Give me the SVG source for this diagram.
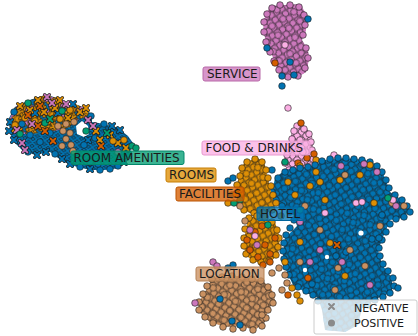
<svg xmlns="http://www.w3.org/2000/svg" width="418" height="336" viewBox="0 0 418 336">
<style>
.b{color:#0173b2}.o{color:#de8f05}.g{color:#029e73}.r{color:#d55e00}.p{color:#cc78bc}.t{color:#ca9161}.l{color:#fbafe4}
.lb{font-family:"DejaVu Sans","Liberation Sans",sans-serif;font-size:12px;fill:#1a1a1a}
.lg{font-family:"DejaVu Sans","Liberation Sans",sans-serif;font-size:11px;fill:#1a1a1a}
.box{stroke-width:1;fill-opacity:.78}
.gap{fill:#ffffff}
</style>
<defs>
<g id="c"><circle r="3.3" fill="currentColor" stroke="#1b1b1b" stroke-width="0.6"/></g>
<g id="x"><path d="M-2.4-2.4L2.4 2.4M2.4-2.4L-2.4 2.4" stroke="#1b1b1b" stroke-width="3.2" stroke-linecap="round"/><path d="M-2.4-2.4L2.4 2.4M2.4-2.4L-2.4 2.4" stroke="currentColor" stroke-width="1.9" stroke-linecap="round"/></g>
<pattern id="pb" width="9" height="8" patternUnits="userSpaceOnUse" patternTransform="rotate(12)"><rect width="9" height="8" fill="#0173b2"/><g fill="#0173b2" stroke="#1b1b1b" stroke-width="0.6"><circle r="3.3"/><circle cx="9" r="3.3"/><circle cx="4.5" cy="4" r="3.3"/><circle cy="8" r="3.3"/><circle cx="9" cy="8" r="3.3"/></g></pattern>
<pattern id="pb2" width="13" height="11" patternUnits="userSpaceOnUse" patternTransform="rotate(-33)"><circle cx="6" cy="5" r="3.3" fill="#0173b2" stroke="#1b1b1b" stroke-width="0.6"/></pattern>
<pattern id="pp" width="9" height="8" patternUnits="userSpaceOnUse" patternTransform="rotate(10)"><rect width="9" height="8" fill="#cc78bc"/><g fill="#cc78bc" stroke="#1b1b1b" stroke-width="0.6"><circle r="3.3"/><circle cx="9" r="3.3"/><circle cx="4.5" cy="4" r="3.3"/><circle cy="8" r="3.3"/><circle cx="9" cy="8" r="3.3"/></g></pattern>
<pattern id="pp2" width="13" height="11" patternUnits="userSpaceOnUse" patternTransform="rotate(-33)"><circle cx="6" cy="5" r="3.3" fill="#cc78bc" stroke="#1b1b1b" stroke-width="0.6"/></pattern>
<pattern id="pt" width="9" height="8" patternUnits="userSpaceOnUse" patternTransform="rotate(-8)"><rect width="9" height="8" fill="#ca9161"/><g fill="#ca9161" stroke="#1b1b1b" stroke-width="0.6"><circle r="3.3"/><circle cx="9" r="3.3"/><circle cx="4.5" cy="4" r="3.3"/><circle cy="8" r="3.3"/><circle cx="9" cy="8" r="3.3"/></g></pattern>
<pattern id="pt2" width="13" height="11" patternUnits="userSpaceOnUse" patternTransform="rotate(31)"><circle cx="6" cy="5" r="3.3" fill="#ca9161" stroke="#1b1b1b" stroke-width="0.6"/></pattern>
<pattern id="po" width="9" height="8" patternUnits="userSpaceOnUse" patternTransform="rotate(15)"><rect width="9" height="8" fill="#de8f05"/><g fill="#de8f05" stroke="#1b1b1b" stroke-width="0.6"><circle r="3.3"/><circle cx="9" r="3.3"/><circle cx="4.5" cy="4" r="3.3"/><circle cy="8" r="3.3"/><circle cx="9" cy="8" r="3.3"/></g></pattern>
<pattern id="po2" width="13" height="11" patternUnits="userSpaceOnUse" patternTransform="rotate(-28)"><circle cx="6" cy="5" r="3.3" fill="#de8f05" stroke="#1b1b1b" stroke-width="0.6"/></pattern>
<pattern id="pl" width="9" height="8" patternUnits="userSpaceOnUse"><rect width="9" height="8" fill="#fbafe4"/><g fill="#fbafe4" stroke="#1b1b1b" stroke-width="0.6"><circle r="3.3"/><circle cx="9" r="3.3"/><circle cx="4.5" cy="4" r="3.3"/><circle cy="8" r="3.3"/><circle cx="9" cy="8" r="3.3"/></g></pattern>
<pattern id="pbx" width="8" height="7" patternUnits="userSpaceOnUse" patternTransform="rotate(8)"><rect width="8" height="7" fill="#0173b2"/><g stroke="#1b1b1b" stroke-width="3" stroke-linecap="round"><path d="M-2-2L2 2M2-2L-2 2M6-2L10 2M10-2L6 2M2 1.5L6 5.5M6 1.5L2 5.5M-2 5L2 9M2 5L-2 9M6 5L10 9M10 5L6 9"/></g><g stroke="#0173b2" stroke-width="1.8" stroke-linecap="round"><path d="M-2-2L2 2M2-2L-2 2M6-2L10 2M10-2L6 2M2 1.5L6 5.5M6 1.5L2 5.5M-2 5L2 9M2 5L-2 9M6 5L10 9M10 5L6 9"/></g></pattern>
<pattern id="pmix" width="16" height="14" patternUnits="userSpaceOnUse" patternTransform="rotate(17)"><rect width="16" height="14" fill="#de8f05"/><use href="#c" x="4" y="10.5" class="o"/><use href="#x" x="4" y="4" class="o"/><use href="#x" x="12" y="4" class="b"/><use href="#x" x="12" y="10.5" class="p"/><use href="#x" x="8" y="7.3" class="o"/></pattern>
</defs>
<rect width="418" height="336" fill="#ffffff"/>

<g id="cluster-room-amenities">
<path fill="url(#pbx)" fill-rule="evenodd" d="M8,120 L15,107 L30,100 L45,95 L58,98 L67,107 L75,104 L85,108 L92,115 L92,122 L105,124 L118,128 L128,136 L133,143 L130,152 L122,162 L120,168 L105,170 L90,170 L70,165 L58,158 L50,152 L35,155 L22,150 L12,140 Z M76,126 L82,121 L88,126 L89,134 L84,137 L77,134 Z"/>
<path fill="url(#pmix)" d="M9,120 L15,107 L30,100 L45,95 L58,98 L67,107 L75,104 L85,108 L90,115 L78,120 L70,127 L55,131 L40,133 L25,134 L12,132 Z"/>
<g class="b">
<use href="#x" x="10" y="122"/><use href="#c" x="14" y="112"/><use href="#x" x="9" y="131"/><use href="#x" x="14" y="140"/><use href="#c" x="28" y="152"/><use href="#x" x="37" y="155"/><use href="#x" x="46" y="152"/><use href="#c" x="55" y="154"/><use href="#x" x="62" y="159"/><use href="#x" x="70" y="164"/><use href="#c" x="80" y="167"/><use href="#x" x="90" y="169"/><use href="#c" x="100" y="170"/><use href="#c" x="110" y="169"/><use href="#c" x="118" y="166"/><use href="#x" x="124" y="162"/><use href="#x" x="128" y="155"/><use href="#c" x="104" y="124"/><use href="#x" x="112" y="126"/><use href="#x" x="120" y="130"/><use href="#c" x="91" y="116"/><use href="#x" x="73" y="104"/><use href="#c" x="40" y="142"/><use href="#c" x="30" y="135"/><use href="#c" x="50" y="133"/><use href="#x" x="88" y="140"/><use href="#c" x="95" y="138"/><use href="#c" x="84" y="145"/><use href="#c" x="90" y="162"/><use href="#c" x="98" y="164"/><use href="#x" x="35" y="113"/><use href="#c" x="22" y="124"/><use href="#x" x="58" y="113"/>
</g>
<g class="o">
<use href="#x" x="38" y="100"/><use href="#x" x="55" y="108"/><use href="#x" x="30" y="110"/><use href="#x" x="68" y="118"/><use href="#x" x="80" y="112"/><use href="#c" x="25" y="118"/><use href="#c" x="35" y="121"/><use href="#c" x="60" y="119"/><use href="#c" x="70" y="110"/><use href="#x" x="20" y="106"/><use href="#x" x="60" y="100"/><use href="#x" x="100" y="140"/><use href="#x" x="110" y="135"/><use href="#x" x="118" y="143"/><use href="#c" x="113" y="141"/><use href="#c" x="124" y="140"/><use href="#x" x="44" y="112"/><use href="#c" x="15" y="125"/><use href="#x" x="86" y="108"/><use href="#x" x="126" y="148"/><use href="#c" x="42" y="128"/><use href="#x" x="96" y="131"/>
</g>
<g class="p"><use href="#x" x="47" y="97"/><use href="#x" x="52" y="103"/><use href="#x" x="22" y="143"/><use href="#x" x="25" y="150"/><use href="#x" x="17" y="130"/><use href="#x" x="88" y="120"/><use href="#x" x="93" y="126"/><use href="#x" x="66" y="104"/><use href="#c" x="118" y="152"/><use href="#x" x="32" y="124"/></g>
<g class="t"><use href="#c" x="58" y="126"/><use href="#c" x="63" y="131"/><use href="#c" x="66" y="139"/><use href="#c" x="71" y="145"/><use href="#c" x="73" y="151"/><use href="#c" x="62" y="146"/><use href="#c" x="70" y="133"/><use href="#c" x="74" y="122"/><use href="#c" x="66" y="124"/></g>
<g class="g"><use href="#c" x="20" y="134"/><use href="#c" x="45" y="123"/><use href="#x" x="50" y="119"/><use href="#c" x="62" y="111"/><use href="#c" x="86" y="131"/><use href="#x" x="107" y="133"/><use href="#c" x="132" y="146"/><use href="#c" x="136" y="148"/><use href="#c" x="28" y="103"/></g>
<g class="r"><use href="#x" x="45" y="131"/><use href="#x" x="38" y="126"/><use href="#x" x="53" y="141"/><use href="#x" x="28" y="115"/><use href="#x" x="101" y="146"/><use href="#x" x="40" y="106"/></g>
</g>

<g id="cluster-service">
<path fill="url(#pp)" d="M270,6 L300,4 L305,12 L306,30 L302,40 L308,50 L309,60 L306,72 L296,78 L283,76 L277,68 L272,55 L268,45 L264,35 L263,22 Z"/>
<path fill="url(#pp2)" d="M270,6 L300,4 L305,12 L306,30 L302,40 L308,50 L309,60 L306,72 L296,78 L283,76 L277,68 L272,55 L268,45 L264,35 L263,22 Z"/>
<g class="p"><use href="#c" x="272" y="8"/><use href="#c" x="280" y="5"/><use href="#c" x="290" y="5"/><use href="#c" x="299" y="7"/><use href="#c" x="304" y="15"/><use href="#c" x="305" y="25"/><use href="#c" x="303" y="35"/><use href="#c" x="306" y="48"/><use href="#c" x="308" y="58"/><use href="#c" x="305" y="68"/><use href="#c" x="298" y="76"/><use href="#c" x="288" y="77"/><use href="#c" x="279" y="70"/><use href="#c" x="274" y="61"/><use href="#c" x="270" y="52"/><use href="#c" x="266" y="42"/><use href="#c" x="264" y="32"/><use href="#c" x="264" y="22"/><use href="#c" x="267" y="14"/></g>
<g class="b"><use href="#c" x="290" y="62"/><use href="#c" x="282" y="76"/><use href="#c" x="294" y="75"/><use href="#c" x="267" y="48"/><use href="#c" x="308" y="19"/><use href="#c" x="282" y="86"/></g>
<g class="l"><use href="#c" x="285" y="45"/><use href="#c" x="288" y="108"/></g>
<g class="r"><use href="#c" x="275" y="63"/></g>
</g>

<g id="cluster-food">
<path fill="url(#pl)" d="M295,124 L305,126 L312,135 L313,150 L315,162 L310,172 L300,175 L290,172 L284,165 L285,150 L290,138 Z"/>
<g class="l"><use href="#c" x="297" y="126"/><use href="#c" x="304" y="129"/><use href="#c" x="309" y="134"/><use href="#c" x="311" y="142"/><use href="#c" x="312" y="150"/><use href="#c" x="313" y="159"/><use href="#c" x="311" y="166"/><use href="#c" x="305" y="172"/><use href="#c" x="296" y="174"/><use href="#c" x="289" y="170"/><use href="#c" x="285" y="163"/><use href="#c" x="287" y="155"/><use href="#c" x="289" y="147"/><use href="#c" x="292" y="139"/><use href="#c" x="294" y="131"/><use href="#c" x="334" y="155"/><use href="#c" x="301" y="178"/><use href="#c" x="300" y="140"/><use href="#c" x="303" y="152"/></g>
<g class="r"><use href="#c" x="301" y="123"/><use href="#c" x="307" y="158"/><use href="#c" x="314" y="154"/><use href="#c" x="298" y="163"/></g>
<g class="o"><use href="#c" x="300" y="166"/><use href="#c" x="316" y="160"/></g>
<g class="g"><use href="#c" x="285" y="162"/></g>
</g>

<g id="cluster-hotel">
<path fill="url(#pb)" d="M275,178 L285,170 L300,168 L315,165 L325,160 L345,158 L365,160 L378,165 L385,178 L390,192 L402,200 L410,210 L402,218 L390,220 L385,232 L378,250 L382,265 L392,278 L392,292 L378,298 L362,308 L358,325 L345,332 L325,330 L322,310 L318,298 L305,292 L293,285 L286,270 L283,255 L285,238 L297,226 L293,214 L280,205 L272,192 Z"/>
<path fill="url(#pb2)" d="M275,178 L285,170 L300,168 L315,165 L325,160 L345,158 L365,160 L378,165 L385,178 L390,192 L402,200 L410,210 L402,218 L390,220 L385,232 L378,250 L382,265 L392,278 L392,292 L378,298 L362,308 L358,325 L345,332 L325,330 L322,310 L318,298 L305,292 L293,285 L286,270 L283,255 L285,238 L297,226 L293,214 L280,205 L272,192 Z"/>
<circle class="gap" cx="361" cy="233" r="2.6"/><circle class="gap" cx="327" cy="257" r="2.2"/><circle class="gap" cx="305" cy="270" r="2.2"/>
<g class="b">
<use href="#c" x="278" y="178"/><use href="#c" x="285" y="172"/><use href="#c" x="293" y="170"/><use href="#c" x="300" y="168"/><use href="#c" x="308" y="167"/><use href="#c" x="315" y="165"/><use href="#c" x="322" y="161"/><use href="#c" x="330" y="159"/><use href="#c" x="338" y="158"/><use href="#c" x="346" y="158"/><use href="#c" x="354" y="159"/><use href="#c" x="362" y="160"/><use href="#c" x="370" y="162"/><use href="#c" x="377" y="166"/><use href="#c" x="382" y="172"/><use href="#c" x="386" y="180"/><use href="#c" x="389" y="188"/><use href="#c" x="395" y="195"/><use href="#c" x="402" y="200"/><use href="#c" x="407" y="206"/><use href="#c" x="410" y="212"/><use href="#c" x="404" y="217"/><use href="#c" x="396" y="219"/><use href="#c" x="390" y="224"/><use href="#c" x="386" y="232"/><use href="#c" x="382" y="240"/><use href="#c" x="379" y="248"/><use href="#c" x="380" y="256"/><use href="#c" x="383" y="264"/><use href="#c" x="388" y="271"/><use href="#c" x="393" y="278"/><use href="#c" x="394" y="286"/><use href="#c" x="390" y="293"/><use href="#c" x="383" y="297"/><use href="#c" x="375" y="300"/><use href="#c" x="368" y="305"/>
<use href="#c" x="272" y="192"/><use href="#c" x="276" y="200"/><use href="#c" x="282" y="206"/><use href="#c" x="290" y="212"/><use href="#c" x="294" y="220"/><use href="#c" x="290" y="228"/><use href="#c" x="286" y="235"/><use href="#c" x="284" y="243"/><use href="#c" x="283" y="251"/><use href="#c" x="284" y="259"/><use href="#c" x="286" y="267"/><use href="#c" x="289" y="275"/><use href="#c" x="298" y="287"/><use href="#c" x="306" y="291"/><use href="#c" x="313" y="295"/><use href="#c" x="318" y="301"/>
<use href="#c" x="228" y="181"/><use href="#c" x="233" y="178"/><use href="#c" x="232" y="195"/><use href="#c" x="268" y="258"/><use href="#c" x="265" y="309"/><use href="#c" x="233" y="320"/><use href="#c" x="220" y="299"/><use href="#c" x="233" y="265"/><use href="#c" x="263" y="318"/><use href="#c" x="382" y="215"/><use href="#c" x="372" y="239"/><use href="#c" x="379" y="238"/><use href="#c" x="398" y="288"/><use href="#c" x="272" y="170"/><use href="#c" x="265" y="182"/><use href="#c" x="312" y="284"/><use href="#c" x="346" y="252"/><use href="#c" x="336" y="256"/>
</g>
<g class="o"><use href="#c" x="295" y="195"/><use href="#c" x="310" y="186"/><use href="#c" x="325" y="200"/><use href="#c" x="340" y="180"/><use href="#c" x="360" y="175"/><use href="#c" x="330" y="243"/><use href="#c" x="300" y="242"/><use href="#c" x="345" y="276"/><use href="#c" x="370" y="165"/><use href="#c" x="288" y="182"/><use href="#c" x="316" y="172"/><use href="#c" x="320" y="182"/><use href="#c" x="374" y="203"/></g>
<g class="t"><use href="#c" x="305" y="206"/><use href="#c" x="320" y="230"/><use href="#c" x="350" y="250"/><use href="#c" x="365" y="266"/><use href="#c" x="300" y="262"/><use href="#c" x="335" y="290"/><use href="#c" x="380" y="226"/><use href="#c" x="345" y="175"/><use href="#c" x="404" y="206"/><use href="#c" x="392" y="203"/><use href="#c" x="338" y="268"/></g>
<g class="p"><use href="#c" x="320" y="250"/><use href="#c" x="342" y="262"/><use href="#c" x="370" y="285"/><use href="#c" x="396" y="206"/><use href="#c" x="341" y="166"/><use href="#c" x="364" y="164"/><use href="#c" x="377" y="172"/><use href="#c" x="310" y="262"/><use href="#c" x="300" y="222"/></g>
<g class="l"><use href="#c" x="356" y="203"/><use href="#c" x="362" y="202"/><use href="#c" x="325" y="213"/><use href="#c" x="393" y="200"/></g>
<g class="g"><use href="#c" x="388" y="198"/><use href="#c" x="300" y="210"/></g>
<g class="r"><use href="#x" x="337" y="245"/><use href="#c" x="308" y="278"/></g>
</g>

<g id="cluster-rooms">
<path fill="url(#po)" d="M245,162 L258,158 L265,165 L268,180 L272,195 L275,208 L265,214 L250,213 L240,208 L236,195 L238,180 L240,170 Z"/>
<path fill="url(#po2)" d="M245,162 L258,158 L265,165 L268,180 L272,195 L275,208 L265,214 L250,213 L240,208 L236,195 L238,180 L240,170 Z"/>
<path fill="url(#po)" d="M248,218 L262,215 L275,222 L280,238 L278,255 L270,262 L255,262 L245,255 L244,240 Z"/>
<g class="o">
<use href="#c" x="247" y="162"/><use href="#c" x="255" y="159"/><use href="#c" x="262" y="162"/><use href="#c" x="266" y="170"/><use href="#c" x="268" y="178"/><use href="#c" x="271" y="186"/><use href="#c" x="273" y="195"/><use href="#c" x="276" y="203"/><use href="#c" x="272" y="210"/><use href="#c" x="263" y="213"/><use href="#c" x="254" y="213"/><use href="#c" x="244" y="210"/><use href="#c" x="238" y="203"/><use href="#c" x="236" y="194"/><use href="#c" x="237" y="185"/><use href="#c" x="240" y="176"/><use href="#c" x="242" y="168"/><use href="#c" x="228" y="203"/>
<use href="#c" x="249" y="218"/><use href="#c" x="257" y="216"/><use href="#c" x="265" y="217"/><use href="#c" x="272" y="222"/><use href="#c" x="277" y="230"/><use href="#c" x="279" y="238"/><use href="#c" x="278" y="247"/><use href="#c" x="276" y="255"/><use href="#c" x="269" y="261"/><use href="#c" x="261" y="262"/><use href="#c" x="253" y="260"/><use href="#c" x="246" y="254"/><use href="#c" x="244" y="246"/><use href="#c" x="244" y="238"/><use href="#c" x="245" y="229"/><use href="#c" x="285" y="262"/><use href="#c" x="292" y="288"/><use href="#c" x="297" y="295"/><use href="#c" x="218" y="283"/><use href="#c" x="300" y="301"/><use href="#c" x="281" y="216"/>
</g>
<g class="r"><use href="#c" x="255" y="232"/><use href="#c" x="265" y="245"/><use href="#c" x="250" y="250"/><use href="#c" x="270" y="254"/><use href="#c" x="258" y="257"/><use href="#c" x="270" y="262"/><use href="#c" x="288" y="295"/><use href="#c" x="275" y="238"/><use href="#c" x="262" y="226"/><use href="#c" x="247" y="240"/><use href="#c" x="263" y="265"/></g>
<g class="g"><use href="#c" x="234" y="203"/><use href="#c" x="268" y="225"/><use href="#c" x="240" y="200"/></g>
<g class="t"><use href="#c" x="240" y="206"/><use href="#c" x="245" y="221"/><use href="#c" x="272" y="273"/><use href="#c" x="285" y="275"/><use href="#c" x="287" y="283"/><use href="#c" x="282" y="290"/><use href="#c" x="267" y="297"/><use href="#c" x="279" y="268"/></g>
<g class="p"><use href="#c" x="257" y="245"/><use href="#c" x="250" y="230"/></g>
<g class="l"><use href="#c" x="255" y="236"/></g>
</g>

<g id="cluster-location">
<path fill="url(#pt)" d="M212,278 L240,276 L262,280 L272,290 L275,300 L268,310 L265,322 L255,330 L240,326 L225,327 L210,322 L200,313 L198,303 L205,292 Z"/>
<path fill="url(#pt2)" d="M212,278 L240,276 L262,280 L272,290 L275,300 L268,310 L265,322 L255,330 L240,326 L225,327 L210,322 L200,313 L198,303 L205,292 Z"/>
<g class="t"><use href="#c" x="212" y="279"/><use href="#c" x="222" y="277"/><use href="#c" x="232" y="276"/><use href="#c" x="242" y="277"/><use href="#c" x="252" y="279"/><use href="#c" x="261" y="281"/><use href="#c" x="268" y="287"/><use href="#c" x="272" y="295"/><use href="#c" x="273" y="303"/><use href="#c" x="268" y="310"/><use href="#c" x="266" y="318"/><use href="#c" x="262" y="326"/><use href="#c" x="253" y="330"/><use href="#c" x="243" y="328"/><use href="#c" x="233" y="329"/><use href="#c" x="223" y="327"/><use href="#c" x="213" y="323"/><use href="#c" x="205" y="317"/><use href="#c" x="199" y="310"/><use href="#c" x="199" y="302"/><use href="#c" x="203" y="294"/><use href="#c" x="207" y="286"/><use href="#c" x="262" y="315"/></g>
<g class="b"><use href="#c" x="232" y="321"/><use href="#c" x="240" y="325"/><use href="#c" x="220" y="299"/><use href="#c" x="228" y="268"/></g>
<g class="p"><use href="#c" x="195" y="303"/><use href="#c" x="213" y="262"/><use href="#c" x="217" y="266"/></g>
</g>

<g id="labels">
<g id="label-service"><rect class="box" x="203" y="67" width="57" height="14" rx="2" fill="#cc78bc" stroke="#b868a8"/><text class="lb" x="207" y="78">SERVICE</text></g>
<g id="label-food"><rect class="box" x="202" y="141" width="108" height="14" rx="2" fill="#fbafe4" stroke="#e89ad0"/><text class="lb" x="205.5" y="152">FOOD &amp; DRINKS</text></g>
<g id="label-room-amenities"><rect class="box" x="71" y="151" width="113" height="13.5" rx="2" fill="#029e73" stroke="#02876a"/><text class="lb" x="73.5" y="162">ROOM AMENITIES</text></g>
<g id="label-rooms"><rect class="box" x="166" y="168" width="50" height="14" rx="2" fill="#de8f05" stroke="#c77f04"/><text class="lb" x="169" y="179">ROOMS</text></g>
<g id="label-facilities"><rect class="box" x="176" y="187" width="68" height="14" rx="2" fill="#d55e00" stroke="#bb5300"/><text class="lb" x="179" y="198">FACILITIES</text></g>
<g id="label-hotel"><rect class="box" x="257" y="207" width="47" height="13.5" rx="2" fill="#0173b2" stroke="#01659c"/><text class="lb" x="260" y="218">HOTEL</text></g>
<g id="label-location"><rect class="box" x="196" y="267" width="68" height="14" rx="2" fill="#ca9161" stroke="#b58155"/><text class="lb" x="199" y="278">LOCATION</text></g>
</g>

<g id="legend">
<rect x="314" y="300" width="103" height="34" rx="2" fill="#ffffff" fill-opacity="0.8" stroke="#cccccc" stroke-width="1"/>
<path d="M329,304 L334,309 M334,304 L329,309" stroke="#8a8a8a" stroke-width="2" stroke-linecap="round"/>
<circle cx="331.5" cy="323" r="3.5" fill="#8a8a8a"/>
<text class="lg" x="354" y="312">NEGATIVE</text>
<text class="lg" x="354" y="327">POSITIVE</text>
</g>
</svg>
